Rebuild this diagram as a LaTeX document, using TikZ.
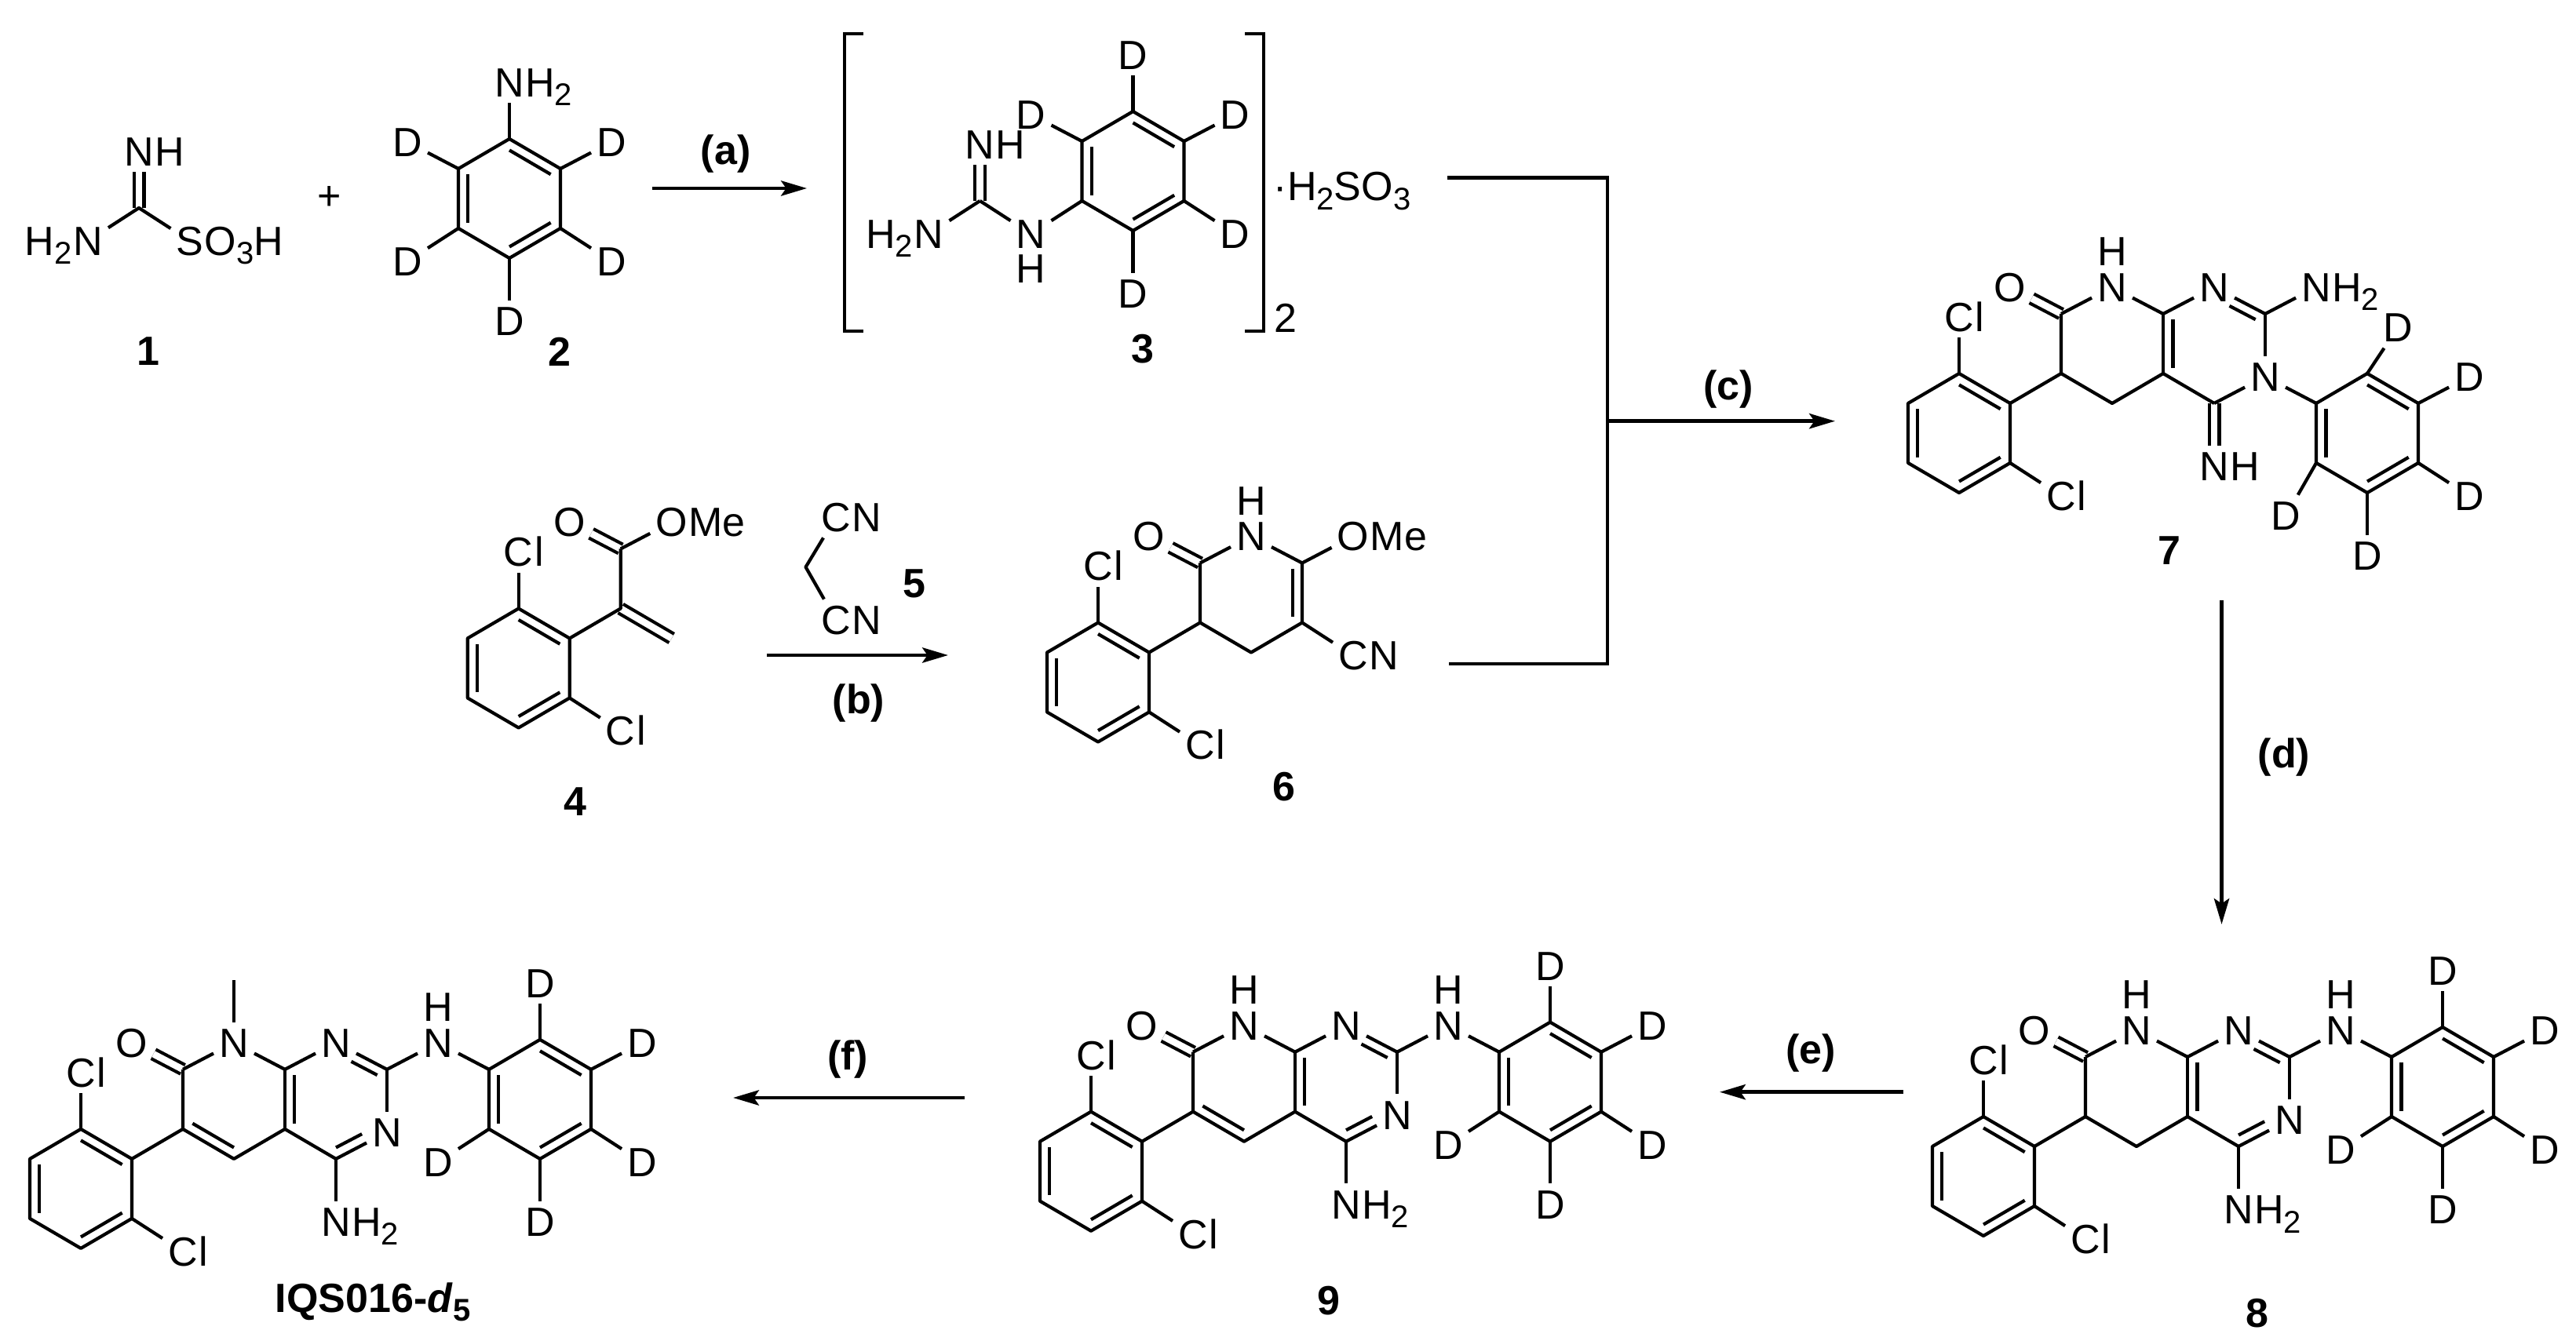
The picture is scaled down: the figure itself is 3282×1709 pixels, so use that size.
\documentclass[tikz,border=0pt]{standalone}
\usepackage{fontspec}
\setmainfont{Liberation Sans}
\usetikzlibrary{calc,arrows.meta}
\pgfdeclarelayer{dblayer}
\pgfsetlayers{dblayer,main}
\newcommand\low[1]{\raisebox{-2.9pt}{\fontsize{10}{11}\selectfont #1}}
\tikzset{
  bond/.style={draw=black,line width=1.05pt,line cap=butt,line join=round},
  dblbond/.style={draw=black,line width=1.05pt,double=white,double distance=2.15pt,line cap=butt},
  rxn/.style={draw=black,line width=1.2pt,-{Stealth[length=8.2pt,width=4.8pt,inset=1.6pt]}},
  joinline/.style={draw=black,line width=1.2pt,line cap=butt,line join=miter},
  atomlab/.style={font=\fontsize{13}{15}\selectfont,inner xsep=1.6pt,inner ysep=1.8pt,text height=9.2pt,text depth=0pt,yshift=-1pt},
  atomtail/.style={font=\fontsize{13}{15}\selectfont,inner sep=0pt},
  plaintext/.style={font=\fontsize{13}{15}\selectfont,inner sep=0pt},
  boldtext/.style={font=\fontsize{13}{15}\selectfont\bfseries,inner sep=0pt},
  lattice/.style={x=16.25pt,y=-9.5pt}
}
% atoms
\newcommand\atom[3]{\node[atomlab] (#1) at (#2) {#3};}
\newcommand\atomR[4]{\node[atomlab] (#1) at (#2) {#3};
  \node[atomtail,anchor=base west] (#1-t) at ([xshift=-1.6pt]#1.base east) {#4};}
\newcommand\atomL[4]{\node[atomlab] (#1) at (#2) {#3};
  \node[atomtail,anchor=base east] (#1-t) at ([xshift=1.6pt]#1.base west) {#4};}
\newcommand\atomUp[2]{\node[atomlab] (#1) at (#2) {N};
  \node[atomtail,anchor=south] (#1-h) at (#1.north) {H};}
\newcommand\atomDown[2]{\node[atomlab] (#1) at (#2) {N};
  \node[atomtail,anchor=north] (#1-h) at (#1.south) {H};}
% bonds
\newcommand\innerb[4][]{\draw[bond,#1] ($(#2)!.19!(#4)$) -- ($(#3)!.19!(#4)$);}
\newcommand\dbl[2]{\begin{pgfonlayer}{dblayer}\draw[dblbond] (#1) -- (#2);\end{pgfonlayer}}
\newcommand\benzene[3]{%
  \coordinate (#1a) at (#2,#3-2);
  \coordinate (#1b) at (#2+1,#3-1);
  \coordinate (#1c) at (#2+1,#3+1);
  \coordinate (#1d) at (#2,#3+2);
  \coordinate (#1e) at (#2-1,#3+1);
  \coordinate (#1f) at (#2-1,#3-1);
  \coordinate (#1z) at (#2,#3);
  \draw[bond] (#1a) -- (#1b) -- (#1c) -- (#1d) -- (#1e) -- (#1f) -- cycle;
  \innerb{#1a}{#1b}{#1z}
  \innerb{#1f}{#1e}{#1z}
  \innerb{#1d}{#1c}{#1z}
}
% 2,6-dichlorophenyl with the C(=O) and C-alpha
\newcommand\leftpart{%
  \benzene{r}{0}{0}
  \atomR{cla}{0,-4}{C}{l}
  \atomR{clb}{2,2}{C}{l}
  \atom{o}{1,-5}{O}
  \coordinate (c6) at (2,-2);
  \coordinate (c7) at (2,-4);
  \coordinate (c5) at (3,-1);
  \coordinate (zp) at (3,-3);
  \dbl{c7}{o}
  \draw[bond] (ra) -- (cla);
  \draw[bond] (rc) -- (clb);
  \draw[bond] (rb) -- (c6) -- (c7);
}
% the fused rings shared by 7, 8, 9 and IQS016
\newcommand\fused{%
  \atom{nb}{5,-5}{N}
  \coordinate (c8a) at (4,-4);
  \coordinate (c4a) at (4,-2);
  \coordinate (c4) at (5,-1);
  \coordinate (c2) at (6,-4);
  \coordinate (zq) at (5,-3);
  \draw[bond] (c7) -- (ntop);
  \draw[bond] (ntop) -- (c8a);
  \draw[bond] (c8a) -- (nb);
  \draw[bond] (c8a) -- (c4a);
  \draw[bond] (c6) -- (c5) -- (c4a) -- (c4);
  \draw[bond] (nb) -- (c2);
  \innerb{c8a}{c4a}{zq}
  \innerb[shorten >=5.5pt]{c2}{nb}{zq}
}
% pyrimidine amines and the anilino ring of 8, 9 and IQS016
\newcommand\anilino{%
  \atom{nc}{6,-2}{N}
  \atomR{nam}{5,1}{N}{H\low{2}}
  \atomUp{nh}{7,-5}
  \benzene{p}{9}{-3}
  \atom{da}{9,-7}{D}
  \atom{db}{11,-5}{D}
  \atom{dc}{11,-1}{D}
  \atom{dd}{9,1}{D}
  \atom{de}{7,-1}{D}
  \draw[bond] (c2) -- (nc);
  \draw[bond] (c4) -- (nc);
  \innerb[shorten >=5.5pt]{c4}{nc}{zq}
  \draw[bond] (c4) -- (nam);
  \draw[bond] (c2) -- (nh);
  \draw[bond] (nh) -- (pf);
  \draw[bond] (pa) -- (da);
  \draw[bond] (pb) -- (db);
  \draw[bond] (pc) -- (dc);
  \draw[bond] (pd) -- (dd);
  \draw[bond] (pe) -- (de);
}
\begin{document}
\begin{tikzpicture}[x=.25pt,y=-.25pt]
\useasboundingbox (0,0) rectangle (3282,1709);
% ---- 1
\begin{scope}[shift={(177,265)},lattice,name prefix=m1-]
  \coordinate (c) at (0,0);
  \atomR{nh}{0,-2}{N}{H}
  \atomL{nl}{-1,1}{N}{H\low{2}}
  \atomR{s}{1,1}{S}{O\low{3}H}
  \dbl{c}{nh}
  \draw[bond] (nl) -- (c) -- (s);
\end{scope}
\node[boldtext] (lab1) at (189,448) {1};
\node[plaintext] (plus) at (419.5,253) {+};
% ---- 2
\begin{scope}[shift={(649,253)},lattice,name prefix=m2-]
  \benzene{r}{0}{0}
  \atomR{nh}{0,-4}{N}{H\low{2}}
  \atom{da}{-2,-2}{D}
  \atom{db}{2,-2}{D}
  \atom{dc}{2,2}{D}
  \atom{dd}{0,4}{D}
  \atom{de}{-2,2}{D}
  \draw[bond] (ra) -- (nh);
  \draw[bond] (rf) -- (da);
  \draw[bond] (rb) -- (db);
  \draw[bond] (rc) -- (dc);
  \draw[bond] (rd) -- (dd);
  \draw[bond] (re) -- (de);
\end{scope}
\node[boldtext] (lab2) at (713,448) {2};
% ---- 3
\begin{scope}[shift={(1443.5,218)},lattice,name prefix=m3-]
  \benzene{r}{0}{0}
  \atom{da}{0,-4}{D}
  \atom{db}{2,-2}{D}
  \atom{dc}{2,2}{D}
  \atom{dd}{0,4}{D}
  \atom{de}{-2,-2}{D}
  \atomDown{n}{-2,2}
  \coordinate (cg) at (-3,1);
  \atomR{nh}{-3,-1}{N}{H}
  \atomL{nl}{-4,2}{N}{H\low{2}}
  \dbl{cg}{nh}
  \draw[bond] (ra) -- (da);
  \draw[bond] (rb) -- (db);
  \draw[bond] (rc) -- (dc);
  \draw[bond] (rd) -- (dd);
  \draw[bond] (rf) -- (de);
  \draw[bond] (re) -- (n);
  \draw[bond] (n) -- (cg);
  \draw[bond] (cg) -- (nl);
\end{scope}
\coordinate (bl1) at (1100,43);
\coordinate (bl2) at (1076,43);
\coordinate (bl3) at (1076,422);
\coordinate (bl4) at (1100,422);
\draw[joinline] (bl1) -- (bl2) -- (bl3) -- (bl4);
\coordinate (br1) at (1586,43);
\coordinate (br2) at (1610,43);
\coordinate (br3) at (1610,422);
\coordinate (br4) at (1586,422);
\draw[joinline] (br1) -- (br2) -- (br3) -- (br4);
\node[plaintext] (count) at (1638,405) {2};
\node[plaintext,anchor=base west] (salt) at (1622,256) {·H\low{2}SO\low{3}};
\node[boldtext] (lab3) at (1456,445) {3};
% ---- 4
\begin{scope}[shift={(660.7,851.5)},lattice,name prefix=m4-]
  \leftpart
  \atomR{om}{3,-5}{O}{Me}
  \draw[bond] (c7) -- (om);
  \dbl{c6}{c5}
\end{scope}
\node[boldtext] (lab4) at (733,1022) {4};
% ---- 5
\coordinate (m5c) at (1026.5,722.7);
\atomR{cna}{1065,655}{C}{N}
\atomR{cnb}{1065,786}{C}{N}
\draw[bond] (cna) -- (m5c) -- (cnb);
\node[boldtext] (lab5) at (1165,744) {5};
% ---- 6
\begin{scope}[shift={(1399,869.5)},lattice,name prefix=m6-]
  \leftpart
  \atomUp{n}{3,-5}
  \atomR{om}{5,-5}{O}{Me}
  \atomR{cn}{5,-1}{C}{N}
  \coordinate (c8a) at (4,-4);
  \coordinate (c4a) at (4,-2);
  \draw[bond] (c7) -- (n);
  \draw[bond] (n) -- (c8a);
  \draw[bond] (c8a) -- (om);
  \draw[bond] (c8a) -- (c4a) -- (c5) -- (c6);
  \draw[bond] (c4a) -- (cn);
  \innerb{c8a}{c4a}{zp}
\end{scope}
\node[boldtext] (lab6) at (1636,1003) {6};
% ---- 7
\begin{scope}[shift={(2496,552)},lattice,name prefix=m7-]
  \leftpart
  \atomUp{ntop}{3,-5}
  \fused
  \atom{nc}{6,-2}{N}
  \atomR{nim}{5,1}{N}{H}
  \atomR{nam}{7,-5}{N}{H\low{2}}
  \benzene{p}{8}{0}
  \atom{da}{8.6,-3.65}{D}
  \atom{db}{10,-2}{D}
  \atom{dc}{10,2}{D}
  \atom{dd}{8,4}{D}
  \atom{de}{6.41,2.66}{D}
  \dbl{c4}{nim}
  \draw[bond] (c2) -- (nc);
  \draw[bond] (c4) -- (nc);
  \draw[bond] (nc) -- (pf);
  \draw[bond] (c2) -- (nam);
  \draw[bond] (pa) -- (da);
  \draw[bond] (pb) -- (db);
  \draw[bond] (pc) -- (dc);
  \draw[bond] (pd) -- (dd);
  \draw[bond] (pe) -- (de);
\end{scope}
\node[boldtext] (lab7) at (2764,702) {7};
% ---- 8
\begin{scope}[shift={(2527,1499)},lattice,name prefix=m8-]
  \leftpart
  \atomUp{ntop}{3,-5}
  \fused
  \anilino
\end{scope}
\node[boldtext] (lab8) at (2876,1674) {8};
% ---- 9
\begin{scope}[shift={(1390,1492.7)},lattice,name prefix=m9-]
  \leftpart
  \atomUp{ntop}{3,-5}
  \fused
  \innerb{c6}{c5}{zp}
  \anilino
\end{scope}
\node[boldtext] (lab9) at (1693,1658) {9};
% ---- IQS016-d5
\begin{scope}[shift={(103,1514.9)},lattice,name prefix=mq-]
  \leftpart
  \atom{ntop}{3,-5}{N}
  \coordinate (me) at (3,-7);
  \draw[bond] (ntop) -- (me);
  \fused
  \innerb{c6}{c5}{zp}
  \anilino
\end{scope}
\node[boldtext,anchor=base] (labq) at (475,1672) {IQS016-\textit{d}\low{5}};
% ---- arrows
\coordinate (aS) at (831,240);
\coordinate (aE) at (1028,240);
\draw[rxn] (aS) -- (aE);
\node[boldtext] (la) at (924.6,195.7) {(a)};
\coordinate (bS) at (977,835);
\coordinate (bE) at (1208,835);
\draw[rxn] (bS) -- (bE);
\node[boldtext] (lb) at (1094,896) {(b)};
\coordinate (j1) at (1844,226.7);
\coordinate (j2) at (2048,226.7);
\coordinate (j3) at (2048,846);
\coordinate (j4) at (1846,846);
\coordinate (j5) at (2048,536.7);
\coordinate (cE) at (2338,536.7);
\draw[joinline] (j1) -- (j2) -- (j3) -- (j4);
\draw[rxn] (j5) -- (cE);
\node[boldtext] (lc) at (2202,496) {(c)};
\coordinate (dS) at (2830.5,765);
\coordinate (dE) at (2830.5,1178);
\draw[rxn] (dS) -- (dE);
\node[boldtext] (ld) at (2910,965) {(d)};
\coordinate (eS) at (2425,1391.7);
\coordinate (eE) at (2191,1391.7);
\draw[rxn] (eS) -- (eE);
\node[boldtext] (le) at (2307,1342) {(e)};
\coordinate (fS) at (1229,1399);
\coordinate (fE) at (934,1399);
\draw[rxn] (fS) -- (fE);
\node[boldtext] (lf) at (1080,1350) {(f)};
\end{tikzpicture}
\end{document}
